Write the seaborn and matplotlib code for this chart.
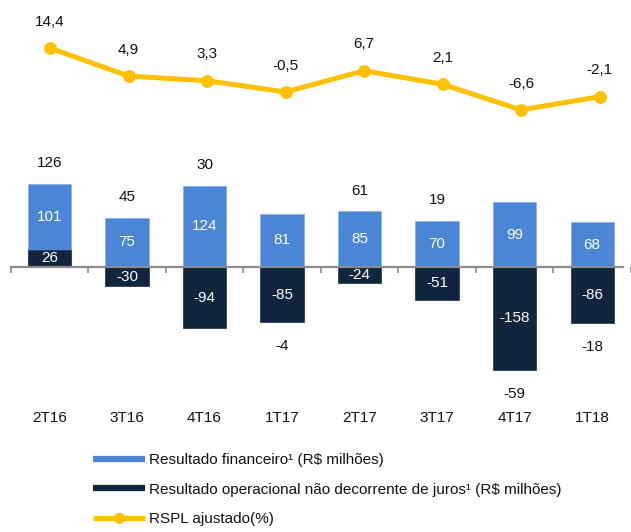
import matplotlib
matplotlib.use("Agg")
import matplotlib.pyplot as plt
import matplotlib.transforms as mtransforms
from matplotlib.lines import Line2D
import seaborn as sns
import numpy as np

sns.set_theme(style="white")
plt.rcParams['font.family'] = ['Liberation Sans', 'DejaVu Sans']

categories = ["2T16", "3T16", "4T16", "1T17", "2T17", "3T17", "4T17", "1T18"]
resultado_financeiro = [101, 75, 124, 81, 85, 70, 99, 68]
resultado_operacional = [26, -30, -94, -85, -24, -51, -158, -86]
total_labels = [126, 45, 30, -4, 61, 19, -59, -18]
rspl_ajustado = [14.4, 4.9, 3.3, -0.5, 6.7, 2.1, -6.6, -2.1]

light = "#4A86D4"
dark = "#12253F"
yellow = "#FFC000"
gray = "#8C8C8C"
txt = "#111111"

W, H = 631, 532
fig = plt.figure(figsize=(W / 100, H / 100), dpi=100)

xlim = (-0.637, 7.40)

# ---- bar axes ----
ax_b = fig.add_axes([0, (H - 400) / H, 1, 250 / H])
light_stack = [f + max(o, 0) for f, o in zip(resultado_financeiro, resultado_operacional)]
sns.barplot(x=categories, y=light_stack, color=light, width=0.56, saturation=1,
            edgecolor="#8DB3E8", linewidth=0.6, ax=ax_b, zorder=2)
sns.barplot(x=categories, y=resultado_operacional, color=dark, width=0.56, saturation=1,
            edgecolor="#2B3E5A", linewidth=0.6, ax=ax_b, zorder=3)
ax_b.set_xlim(*xlim)
ax_b.set_ylim(-204, 179)
for s in ["top", "right", "left"]:
    ax_b.spines[s].set_visible(False)
ax_b.spines["bottom"].set_position(("data", 0))
ax_b.spines["bottom"].set_bounds(-0.5, xlim[1])
ax_b.spines["bottom"].set_color(gray)
ax_b.spines["bottom"].set_linewidth(1.6)
ax_b.spines["bottom"].set_zorder(4)
ax_b.set_yticks([])
ax_b.set_xticks(np.arange(len(categories) + 1) - 0.5)
ax_b.set_xticklabels([])
ax_b.tick_params(axis="x", direction="out", length=4, width=1.2, color=gray, bottom=True)
ax_b.set_ylabel("")
ax_b.set_facecolor("none")

fs = 11
for i, (f, o, t) in enumerate(zip(resultado_financeiro, resultado_operacional, total_labels)):
    base = max(o, 0)
    ax_b.text(i, base + f / 2, f"{f}", color="white", ha="center", va="center", fontsize=fs, zorder=5)
    ax_b.text(i, o / 2, f"{o}", color="white", ha="center", va="center", fontsize=fs, zorder=5)
    if t >= 0:
        ax_b.annotate(f"{t}", (i, base + f), xytext=(0, 15), textcoords="offset points",
                      ha="center", va="center", fontsize=fs, color=txt)
    else:
        ax_b.annotate(f"{t}", (i, min(o, 0)), xytext=(0, -17), textcoords="offset points",
                      ha="center", va="center", fontsize=fs, color=txt)

trans = mtransforms.blended_transform_factory(ax_b.transData, fig.transFigure)
for i, c in enumerate(categories):
    ax_b.text(i, (H - 418) / H, c, transform=trans, ha="center", va="center",
              fontsize=fs, color=txt)

# ---- line axes ----
ax_l = fig.add_axes([0, (H - 140) / H, 1, 140 / H])
sns.pointplot(x=categories, y=rspl_ajustado, color=yellow, markers="o",
              linewidth=3.6, markersize=6.5, ax=ax_l)
ax_l.set_xlim(*xlim)
ax_l.set_ylim(-16.8, 30.7)
ax_l.axis("off")
for i, v in enumerate(rspl_ajustado):
    ax_l.annotate(f"{v:.1f}".replace(".", ","), (i, v), xytext=(0, 19),
                  textcoords="offset points", ha="center", va="center",
                  fontsize=fs, color=txt)

# ---- legend ----
handles = [
    Line2D([0], [0], color=light, lw=4.5, solid_capstyle="butt"),
    Line2D([0], [0], color=dark, lw=4.5, solid_capstyle="butt"),
    Line2D([0], [0], color=yellow, lw=3.6, marker="o", markersize=7, solid_capstyle="butt"),
]
labels = [
    "Resultado financeiro¹ (R$ milhões)",
    "Resultado operacional não decorrente de juros¹ (R$ milhões)",
    "RSPL ajustado(%)",
]
fig.legend(handles, labels, loc="upper left", bbox_to_anchor=(0.147, (H - 453) / H),
           frameon=False, fontsize=11, handlelength=3.4, handletextpad=0.28,
           labelspacing=1.02, borderaxespad=0, borderpad=0, labelcolor=txt)

fig.savefig("out.png", dpi=100)
